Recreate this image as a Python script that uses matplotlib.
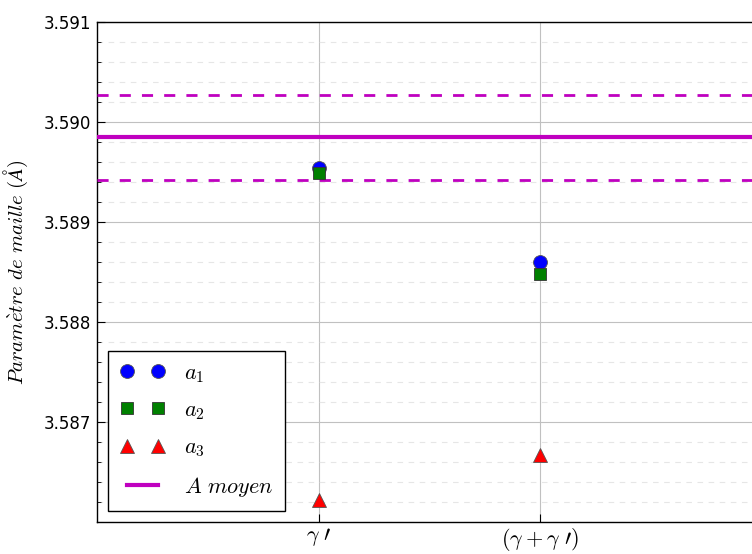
import matplotlib
matplotlib.use("Agg")
import matplotlib.pyplot as plt
from matplotlib.ticker import MultipleLocator

plt.rcParams['mathtext.fontset'] = 'cm'

categories = [r'$\gamma\ \prime$', r'$(\gamma+\gamma\ \prime)$']
xpos = [1, 2]
a1 = [3.58954, 3.58860]
a2 = [3.58949, 3.58848]
a3 = [3.58622, 3.58667]
a_moyen = 3.58985
a_moyen_low = 3.58942
a_moyen_high = 3.59027

fig = plt.figure(figsize=(7.52, 5.54), dpi=100)
ax = fig.add_axes([97/752, 1-522/554, (762-97)/752, 500/554])

ax.plot(xpos, a1, 'o', color='blue', markersize=10, markeredgecolor='#555555', markeredgewidth=0.6, label=r'$a_1$', zorder=5)
ax.plot(xpos, a2, 's', color='green', markersize=9, markeredgecolor='#333333', markeredgewidth=0.6, label=r'$a_2$', zorder=5)
ax.plot(xpos, a3, '^', color='red', markersize=10, markeredgecolor='#555555', markeredgewidth=0.6, label=r'$a_3$', zorder=5)
ax.axhline(a_moyen, color='m', lw=3, label=r'$A\ moyen$', zorder=4)
ax.axhline(a_moyen_high, color='m', lw=2, ls=(0, (4, 4)), zorder=4)
ax.axhline(a_moyen_low, color='m', lw=2, ls=(0, (4, 4)), zorder=4)

ax.set_xlim(0, 3)
ax.set_ylim(3.586, 3.591)
ax.set_xticks(xpos)
ax.set_xticklabels(categories, fontsize=16)
ax.set_yticks([3.587, 3.588, 3.589, 3.590, 3.591])
ax.set_yticklabels(['3.587', '3.588', '3.589', '3.590', '3.591'], fontsize=12)
ax.yaxis.set_minor_locator(MultipleLocator(0.0002))
ax.tick_params(axis='both', which='both', direction='in')
ax.tick_params(axis='both', which='major', length=6, color='black')
ax.tick_params(axis='y', which='major', pad=4)
ax.tick_params(axis='x', which='major', pad=3)
ax.tick_params(axis='y', which='minor', length=3)
ax.tick_params(axis='x', which='both', top=False)
ax.tick_params(axis='y', which='both', right=False)
ax.grid(True, which='major', color='#c0c0c0', lw=0.8, ls='-')
ax.grid(True, which='minor', axis='y', color='#e6e6e6', lw=0.8, ls=(0, (5, 5)))
ax.set_axisbelow(True)
for s in ax.spines.values():
    s.set_linewidth(1.0)

ax.set_ylabel(r'$Param\grave{e}tre\ de\ maille\ (\AA)$', fontsize=15, labelpad=10)

leg = ax.legend(loc='lower left', numpoints=2, fontsize=16, fancybox=False,
                edgecolor='black', framealpha=1, borderpad=0.55, labelspacing=0.7,
                handlelength=2.0, handletextpad=0.85, borderaxespad=0,
                bbox_to_anchor=(11/665, 11/500))
leg.get_frame().set_linewidth(1.0)

fig.savefig('out.png', dpi=100)
